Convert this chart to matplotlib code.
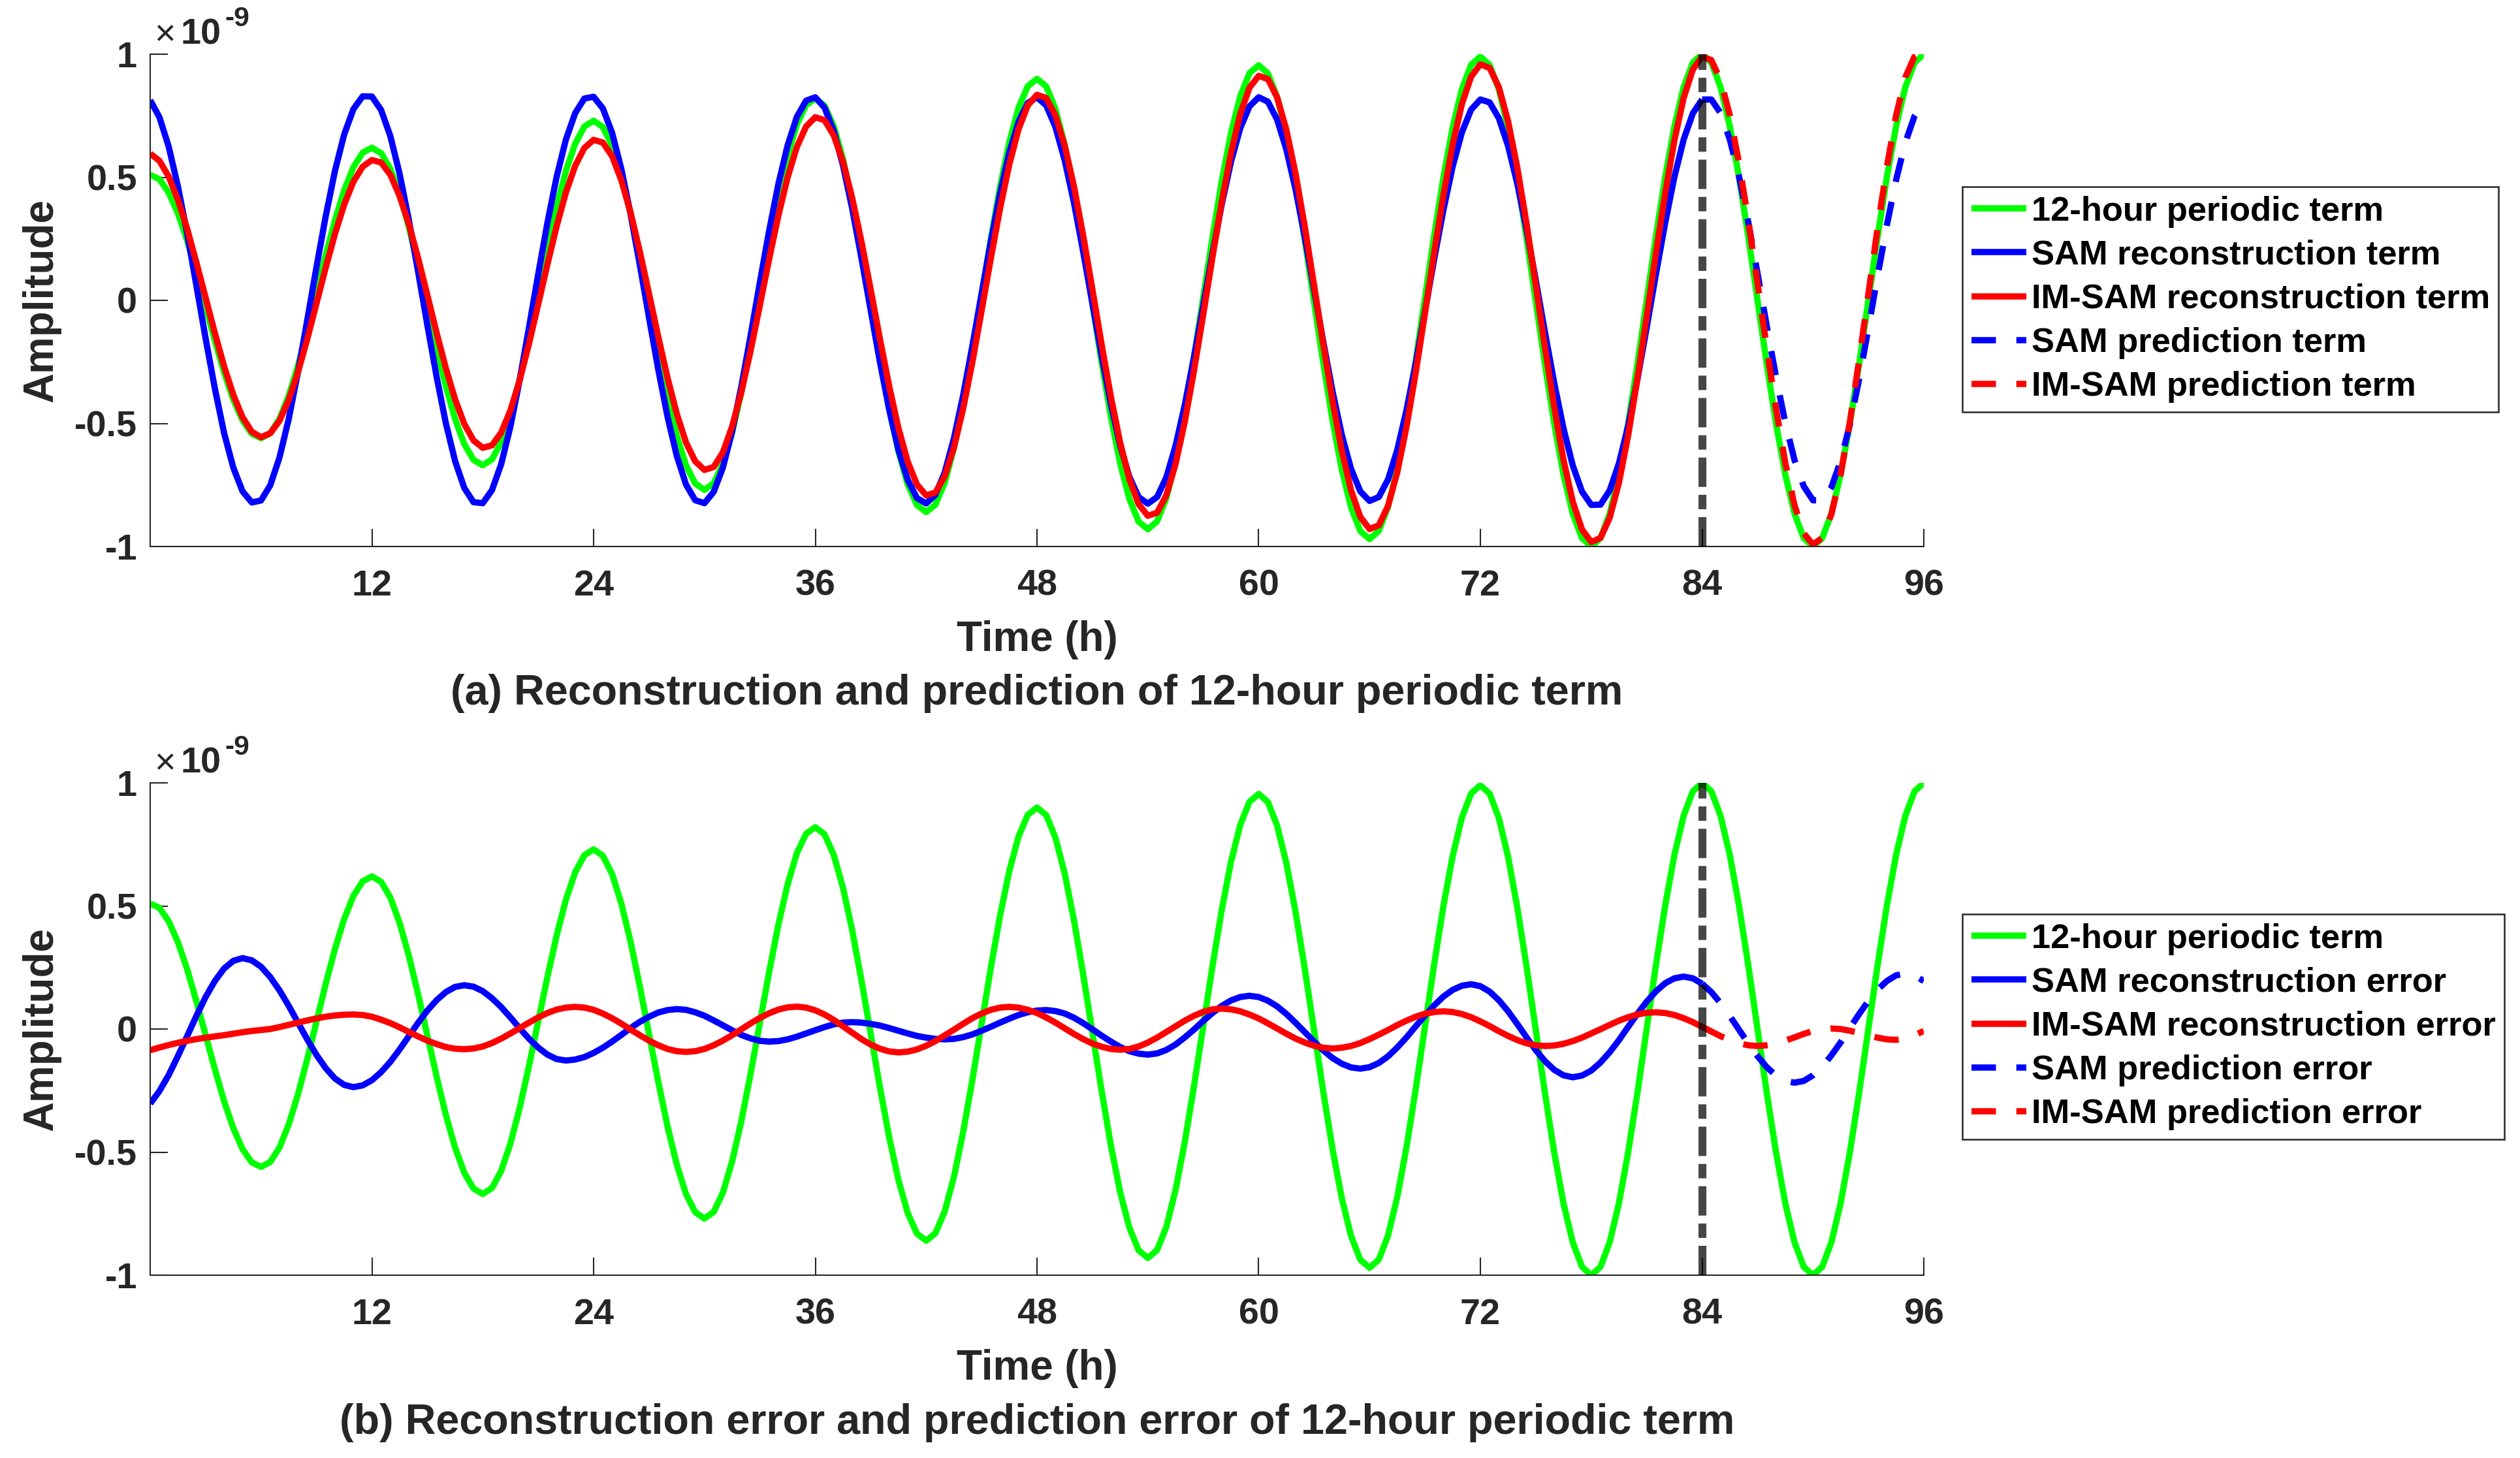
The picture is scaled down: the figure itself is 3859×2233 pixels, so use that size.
import numpy as np
import matplotlib
matplotlib.use("Agg")
import matplotlib.pyplot as plt

# ---------------- data (amplitudes in units of 1e-9, sampled every 0.5 h) ----------------
time_start_h = 0.0
time_step_h = 0.5
split_h = 84.0            # end of reconstruction / start of prediction
x_ticks = [12, 24, 36, 48, 60, 72, 84, 96]
y_ticks = [-1, -0.5, 0, 0.5, 1]
y_tick_labels = ["-1", "-0.5", "0", "0.5", "1"]

term_12h = [
    0.510, 0.492, 0.438, 0.353, 0.243, 0.113, -0.025, -0.163, -0.293, -0.403, -0.488, -0.542, -0.560,
    -0.540, -0.481, -0.387, -0.265, -0.123, 0.030, 0.183, 0.325, 0.447, 0.541, 0.600, 0.620,
    0.598, 0.534, 0.431, 0.298, 0.142, -0.025, -0.192, -0.348, -0.481, -0.584, -0.648, -0.670,
    -0.646, -0.576, -0.465, -0.320, -0.151, 0.030, 0.211, 0.380, 0.525, 0.636, 0.706, 0.730,
    0.704, 0.630, 0.510, 0.355, 0.174, -0.020, -0.214, -0.395, -0.550, -0.670, -0.744, -0.770,
    -0.743, -0.664, -0.537, -0.373, -0.181, 0.025, 0.231, 0.423, 0.587, 0.714, 0.793, 0.820,
    0.791, 0.707, 0.574, 0.400, 0.197, -0.020, -0.237, -0.440, -0.614, -0.747, -0.831, -0.860,
    -0.830, -0.742, -0.602, -0.420, -0.208, 0.020, 0.248, 0.460, 0.642, 0.782, 0.870, 0.900,
    0.869, 0.777, 0.632, 0.443, 0.222, -0.015, -0.252, -0.473, -0.662, -0.807, -0.899, -0.930,
    -0.898, -0.804, -0.654, -0.459, -0.231, 0.013, 0.256, 0.484, 0.679, 0.829, 0.923, 0.955,
    0.922, 0.826, 0.673, 0.474, 0.242, -0.008, -0.257, -0.489, -0.688, -0.841, -0.937, -0.970,
    -0.937, -0.839, -0.683, -0.480, -0.244, 0.010, 0.264, 0.500, 0.703, 0.859, 0.957, 0.990,
    0.956, 0.857, 0.699, 0.493, 0.253, -0.005, -0.263, -0.503, -0.709, -0.867, -0.966, -1.000,
    -0.966, -0.866, -0.707, -0.500, -0.259, 0.000, 0.259, 0.500, 0.707, 0.866, 0.966, 1.000,
    0.966, 0.866, 0.707, 0.500, 0.259, 0.000, -0.259, -0.500, -0.707, -0.866, -0.966, -1.000,
    -0.966, -0.866, -0.707, -0.500, -0.259, 0.000, 0.259, 0.500, 0.707, 0.866, 0.966, 1.000,
]

# error = 12-hour term - reconstruction (0 .. 84 h)
sam_recon_err = [
    -0.303, -0.252, -0.187, -0.110, -0.029, 0.053, 0.130, 0.195, 0.246, 0.277, 0.288,
    0.279, 0.253, 0.211, 0.157, 0.094, 0.026, -0.042, -0.105, -0.159, -0.201, -0.227, -0.236,
    -0.229, -0.208, -0.175, -0.133, -0.083, -0.029, 0.025, 0.075, 0.117, 0.150, 0.171, 0.178,
    0.172, 0.154, 0.125, 0.089, 0.047, 0.003, -0.039, -0.075, -0.104, -0.122, -0.128,
    -0.124, -0.114, -0.097, -0.076, -0.051, -0.024, 0.004, 0.029, 0.050, 0.067, 0.077, 0.081,
    0.078, 0.068, 0.054, 0.035, 0.015, -0.005, -0.024, -0.038, -0.048, -0.051,
    -0.049, -0.042, -0.031, -0.018, -0.005, 0.008, 0.019, 0.026, 0.028,
    0.026, 0.021, 0.014, 0.004, -0.007, -0.018, -0.028, -0.035, -0.040, -0.042,
    -0.040, -0.033, -0.022, -0.007, 0.009, 0.026, 0.042, 0.057, 0.068, 0.075, 0.077,
    0.073, 0.063, 0.046, 0.024, -0.001, -0.027, -0.051, -0.073, -0.090, -0.100, -0.104,
    -0.099, -0.085, -0.063, -0.034, -0.002, 0.033, 0.065, 0.094, 0.116, 0.130, 0.135,
    0.130, 0.115, 0.092, 0.061, 0.025, -0.013, -0.051, -0.087, -0.118, -0.141, -0.156, -0.161,
    -0.155, -0.138, -0.111, -0.075, -0.034, 0.011, 0.055, 0.096, 0.132, 0.159, 0.176, 0.182,
    0.174, 0.152, 0.117, 0.072, 0.020, -0.034, -0.086, -0.131, -0.166, -0.188, -0.196,
    -0.189, -0.169, -0.136, -0.094, -0.045, 0.009, 0.062, 0.111, 0.153, 0.186, 0.206, 0.213,
    0.206, 0.184,
]

im_sam_recon_err = [
    -0.086, -0.075, -0.065, -0.056, -0.048, -0.041, -0.035, -0.030, -0.025, -0.019, -0.013, -0.008,
    -0.004, 0.000, 0.008, 0.017, 0.026, 0.035, 0.043, 0.050, 0.055, 0.058, 0.059,
    0.057, 0.050, 0.038, 0.024, 0.007, -0.012, -0.030, -0.047, -0.061, -0.073, -0.080, -0.082,
    -0.079, -0.071, -0.057, -0.039, -0.018, 0.004, 0.026, 0.047, 0.065, 0.079, 0.087, 0.090,
    0.087, 0.078, 0.063, 0.044, 0.022, -0.002, -0.025, -0.047, -0.066, -0.081, -0.090, -0.093,
    -0.090, -0.081, -0.066, -0.047, -0.025, -0.001, 0.023, 0.045, 0.064, 0.079, 0.088, 0.091,
    0.087, 0.076, 0.059, 0.037, 0.011, -0.015, -0.041, -0.063, -0.080, -0.091, -0.095,
    -0.092, -0.083, -0.068, -0.049, -0.026, -0.003, 0.021, 0.044, 0.063, 0.078, 0.087, 0.090,
    0.087, 0.078, 0.065, 0.047, 0.026, 0.003, -0.020, -0.041, -0.059, -0.072, -0.081, -0.084,
    -0.081, -0.071, -0.055, -0.035, -0.012, 0.011, 0.034, 0.054, 0.070, 0.080, 0.083,
    0.080, 0.072, 0.059, 0.043, 0.023, 0.002, -0.019, -0.039, -0.055, -0.068, -0.076, -0.079,
    -0.076, -0.069, -0.057, -0.041, -0.023, -0.004, 0.016, 0.034, 0.050, 0.062, 0.069, 0.072,
    0.069, 0.061, 0.048, 0.031, 0.012, -0.009, -0.028, -0.045, -0.058, -0.066, -0.069,
    -0.067, -0.060, -0.049, -0.035, -0.018, -0.001, 0.017, 0.034, 0.048, 0.059, 0.066, 0.068,
    0.065, 0.057, 0.044, 0.028, 0.009,
]

# prediction errors (84 .. 96 h)
sam_pred_err = [
    0.184, 0.150, 0.105, 0.053, -0.003, -0.058, -0.110, -0.155, -0.189, -0.211, -0.218, -0.211,
    -0.188, -0.153, -0.107, -0.054, 0.004, 0.061, 0.114, 0.160, 0.195, 0.218, 0.225, 0.217, 0.195,
]
im_sam_pred_err = [
    0.009, -0.010, -0.029, -0.045, -0.058, -0.066, -0.069, -0.066, -0.059, -0.047, -0.034, -0.020,
    -0.008, -0.001, 0.002, 0.000, -0.007, -0.016, -0.026, -0.035, -0.042, -0.044, -0.040, -0.025, -0.008,
]

legend_a = ["12-hour periodic term", "SAM reconstruction term", "IM-SAM reconstruction term",
            "SAM prediction term", "IM-SAM prediction term"]
legend_b = ["12-hour periodic term", "SAM reconstruction error", "IM-SAM reconstruction error",
            "SAM prediction error", "IM-SAM prediction error"]
caption_a = "(a) Reconstruction and prediction of 12-hour periodic term"
caption_b = "(b) Reconstruction error and prediction error of 12-hour periodic term"

# ---------------- derived series ----------------
term = np.array(term_12h)
t_all = time_start_h + time_step_h * np.arange(len(term))
n_rec = len(sam_recon_err)
t_rec = t_all[:n_rec]
t_pred = t_all[n_rec - 1:n_rec - 1 + len(sam_pred_err)]
sam_recon = term[:n_rec] - np.array(sam_recon_err)
im_recon = term[:n_rec] - np.array(im_sam_recon_err)
sam_pred = term[n_rec - 1:n_rec - 1 + len(sam_pred_err)] - np.array(sam_pred_err)
im_pred = term[n_rec - 1:n_rec - 1 + len(im_sam_pred_err)] - np.array(im_sam_pred_err)

# ---------------- style ----------------
plt.rcParams.update({
    "font.family": ["Liberation Sans", "DejaVu Sans"],
    "font.weight": "bold",
    "axes.unicode_minus": False,
    "lines.scale_dashes": False,
    "lines.solid_joinstyle": "round",
    "lines.solid_capstyle": "butt",
})

W, H, DPI = 3859, 2233, 300
GREEN, BLUE, RED = "#00FF00", "#0000FF", "#FF0000"
DARK = "#262626"
LW = 2.3
DASH = (0, (9.0, 7.5))
VDASH = (0, (10.8, 2.9, 5.3, 2.9))

fig = plt.figure(figsize=(W / DPI, H / DPI), dpi=DPI, facecolor="white")

AX_L, AX_R = 230, 2946
panels = [(83, 837), (1199, 1953)]


def fx(x):
    return x / W


def fy(y):
    return 1 - y / H


def make_axes(top, bottom):
    ax = fig.add_axes([fx(AX_L), fy(bottom), (AX_R - AX_L) / W, (bottom - top) / H])
    ax.set_xlim(0, 96)
    ax.set_ylim(-1, 1)
    ax.set_xticks(x_ticks)
    ax.set_yticks(y_ticks)
    ax.set_yticklabels(y_tick_labels)
    for s in ["top", "right"]:
        ax.spines[s].set_visible(False)
    for s in ["left", "bottom"]:
        ax.spines[s].set_color(DARK)
        ax.spines[s].set_linewidth(0.5)
    ax.tick_params(direction="in", length=6.4, width=0.5, colors=DARK, labelsize=13.4,
                   top=False, right=False)
    ax.tick_params(axis="x", pad=8.3)
    ax.tick_params(axis="y", pad=4.8)
    ax.set_xlabel("Time (h)", fontsize=15.3, fontweight="bold", color=DARK)
    ax.xaxis.set_label_coords(0.5, -(950 - 837) / 754)
    ax.xaxis.label.set_va("top")
    # y label and exponent
    fig.text(fx(63), fy((top + bottom) / 2), "Amplitude", rotation=90, ha="center", va="center",
             fontsize=15.3, fontweight="bold", color=DARK)
    fig.text(fx(236), fy(top - 15), "\u00d7", ha="left", va="baseline", fontsize=13.4,
             fontweight="normal", color=DARK)
    fig.text(fx(277), fy(top - 15), "10", ha="left", va="baseline", fontsize=13.4,
             fontweight="bold", color=DARK)
    fig.text(fx(344), fy(top - 43), "-9", ha="left", va="baseline", fontsize=10.2,
             fontweight="bold", color=DARK)
    return ax


def finish(ax, top, labels, legend_top, caption, caption_base):
    ax.axvline(split_h, color="k", alpha=0.72, linewidth=2.9, linestyle=VDASH, zorder=5)
    leg = ax.legend(labels=labels, loc="upper left", bbox_to_anchor=(fx(3005), fy(legend_top)),
                    bbox_transform=fig.transFigure, borderaxespad=0, fontsize=12.6,
                    handlelength=1.6, handletextpad=0.15, borderpad=0.26, labelspacing=0.345,
                    frameon=True, fancybox=False, edgecolor=DARK, framealpha=1)
    leg.get_frame().set_linewidth(0.6)
    for txt in leg.get_texts():
        txt.set_color("black")
        txt.set_fontweight("bold")
    fig.text(fx((AX_L + AX_R) / 2), fy(caption_base), caption, ha="center", va="baseline",
             fontsize=15.5, fontweight="bold", color=DARK)


# panel (a)
ax_a = make_axes(*panels[0])
ax_a.plot(t_all, term, color=GREEN, lw=LW)
ax_a.plot(t_rec, sam_recon, color=BLUE, lw=LW)
ax_a.plot(t_rec, im_recon, color=RED, lw=LW)
ax_a.plot(t_pred, sam_pred, color=BLUE, lw=LW, linestyle=DASH)
ax_a.plot(t_pred, im_pred, color=RED, lw=LW, linestyle=DASH)
finish(ax_a, panels[0][0], legend_a, 286, caption_a, 1079)

# panel (b)
ax_b = make_axes(*panels[1])
ax_b.plot(t_all, term, color=GREEN, lw=LW)
ax_b.plot(t_rec, sam_recon_err, color=BLUE, lw=LW)
ax_b.plot(t_rec, im_sam_recon_err, color=RED, lw=LW)
ax_b.plot(t_pred, sam_pred_err, color=BLUE, lw=LW, linestyle=DASH)
ax_b.plot(t_pred, im_sam_pred_err, color=RED, lw=LW, linestyle=DASH)
finish(ax_b, panels[1][0], legend_b, 1400, caption_b, 2196)

fig.savefig("out.png", dpi=DPI, facecolor="white")
